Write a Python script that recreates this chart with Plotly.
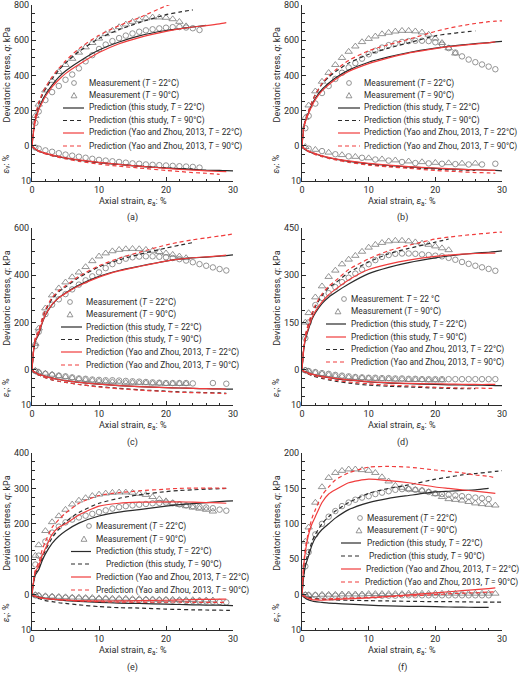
import plotly.graph_objects as go

W, H = 520, 673

# strain grids (%)
meas_strain = [0.5] + list(range(1, 30))
pred_strain = [0, 0.25, 0.5, 1, 1.5, 2, 3, 4, 5, 7, 10, 13, 16, 20, 22, 24, 26, 28, 29, 30]

# ---- (a) ----
a_q_c22 = [130, 195, 260, 305, 340, 375, 405, 440, 480, 515, 550, 575, 595, 612, 626, 638, 648, 656, 662, 667, 671, 674, 675, 672, 668, 658]
a_q_t90 = [170, 235, 315, 370, 420, 460, 495, 530, 560, 585, 610, 635, 655, 675, 690, 705, 715, 725, 730, 730, 728, 720, 705, 680]
a_q_ks = [0, 90, 150, 210, 255, 290, 345, 390, 425, 478, 544, 590, 625, 655, 665, 675, 684]
a_q_kd = [0, 100, 165, 235, 285, 322, 380, 430, 470, 535, 610, 660, 700, 745, 760, 772]
a_q_rs = [0, 85, 140, 205, 245, 280, 335, 375, 410, 462, 530, 580, 615, 650, 664, 675, 683, 693, 700]
a_q_rd = [0, 100, 170, 245, 295, 332, 392, 440, 482, 552, 628, 683, 728, 795, 822, 845, 866, 885, 895, 905]
a_ev_c22 = [0.5, 0.8, 1.3, 1.7, 2.1, 2.5, 2.8, 3.1, 3.4, 3.7, 4.0, 4.2, 4.4, 4.6, 4.8, 5.0, 5.1, 5.3, 5.4, 5.5, 5.6, 5.7, 5.8, 5.9, 6.0, 6.2]
a_ev_t90 = []
a_ev_ks = [0, 0.6, 1.0, 1.5, 1.9, 2.2, 2.7, 3.1, 3.5, 4.1, 4.8, 5.3, 5.8, 6.3, 6.5, 6.7, 6.9, 7.0, 7.05, 7.1]
a_ev_kd = [0, 0.6, 1.0, 1.5, 1.9, 2.2, 2.7, 3.1, 3.5, 4.1, 4.8, 5.3, 5.8, 6.3, 6.5, 6.6]
a_ev_rs = [0, 0.5, 0.9, 1.4, 1.8, 2.1, 2.6, 3.0, 3.4, 4.0, 4.7, 5.3, 5.8, 6.4, 6.7, 6.9, 7.1, 7.3, 7.35]
a_ev_rd = [0, 0.6, 1.0, 1.6, 2.0, 2.3, 2.9, 3.3, 3.7, 4.4, 5.2, 5.8, 6.3, 7.0, 7.3, 7.6, 7.8, 8.1]

# ---- (b) ----
b_q_c22 = [100, 170, 240, 300, 340, 380, 415, 445, 470, 495, 520, 540, 558, 572, 582, 590, 595, 597, 597, 595, 588, 575, 555, 530, 508, 490, 475, 462, 450, 435]
b_q_t90 = [160, 230, 310, 365, 415, 460, 500, 535, 565, 590, 608, 622, 635, 643, 650, 654, 654, 651, 645, 632, 610, 585, 555, 525]
b_q_ks = [0, 100, 140, 190, 235, 270, 320, 355, 385, 430, 475, 505, 530, 555, 565, 573, 580, 586, 590, 593]
b_q_kd = [0, 105, 145, 200, 250, 290, 350, 390, 420, 470, 520, 555, 585, 625, 636, 645, 653]
b_q_rs = [0, 95, 135, 185, 228, 262, 312, 347, 377, 422, 467, 500, 527, 552, 563, 571, 578, 585, 590]
b_q_rd = [0, 105, 145, 200, 250, 290, 355, 397, 430, 485, 540, 575, 605, 650, 668, 683, 695, 705, 708, 710]
b_ev_c22 = [None, 0.8, None, 1.5, None, 2.4, None, 3.0, None, 3.4, None, 3.9, None, 4.2, None, 4.6, None, 4.9, None, 5.0, None, 5.1, None, 5.2, None, 5.3, None, 5.3, None, 5.1]
b_ev_t90 = [0.3, None, 1.1, None, 1.9, None, 2.6, None, 3.1, None, 3.5, None, 3.8, None, 4.1, None, 4.4, None, 4.6, None, 4.8, None, 4.9, None, 5.0, None, 5.0]
b_ev_ks = [0, 0.7, 1.1, 1.6, 2.0, 2.3, 2.9, 3.4, 3.8, 4.4, 5.1, 5.6, 6.0, 6.4, 6.6, 6.7, 6.8, 6.95, 7.0, 7.1]
b_ev_kd = [0, 0.7, 1.1, 1.6, 2.0, 2.3, 2.9, 3.4, 3.8, 4.5, 5.3, 5.8, 6.2, 6.6, 6.8, 6.9, 7.0]
b_ev_rs = [0, 0.6, 1.0, 1.5, 1.9, 2.2, 2.8, 3.3, 3.7, 4.3, 5.0, 5.5, 5.9, 6.3, 6.5, 6.7, 6.8, 6.9, 7.0]
b_ev_rd = [0, 0.7, 1.1, 1.7, 2.1, 2.5, 3.1, 3.6, 4.0, 4.7, 5.5, 6.0, 6.4, 7.0, 7.2, 7.4, 7.6, 7.7, 7.8]

# ---- (c) ----
c_q_c22 = [100, 160, 235, 275, 298, 320, 340, 360, 378, 395, 412, 430, 447, 460, 470, 476, 479, 480, 480, 478, 476, 473, 468, 462, 455, 447, 440, 433, 426, 420]
c_q_t90 = [110, 175, 260, 315, 345, 370, 392, 412, 435, 460, 480, 493, 502, 508, 511, 512, 511, 508, 504, 499, 493, 487, 480, 473]
c_q_ks = [0, 80, 120, 150, 195, 230, 275, 305, 325, 358, 395, 420, 438, 460, 468, 473, 477, 481, 483, 486]
c_q_kd = [0, 90, 130, 160, 210, 250, 300, 330, 350, 390, 435, 465, 488, 515, 527, 538]
c_q_rs = [0, 85, 125, 155, 198, 232, 276, 304, 323, 355, 392, 418, 437, 460, 468, 474, 478, 482, 485]
c_q_rd = [0, 90, 135, 165, 215, 255, 305, 335, 355, 395, 440, 472, 497, 528, 540, 550, 558, 566, 570, 575]
c_ev_c22 = [0.4, 0.8, 1.2, 1.5, 1.7, 1.9, 2.2, 2.5, 2.6, 2.8, 2.9, 3.0, 3.0, 3.1, 3.2, 3.3, 3.4, 3.5, 3.6, 3.7, 3.8, 3.8, 3.8, 3.8, 3.9, None, None, 3.8, None, 4.0]
c_ev_t90 = [0.3, 0.7, 1.1, 1.4, 1.8, 2.1, 2.4, 2.7, 2.9, 3.1, 3.3, 3.4, 3.5, 3.6, 3.7, 3.7, 3.8, 3.8, 3.9, 3.9, 4.0, 4.0, 4.0, 4.0]
c_ev_ks = [0, 0.5, 0.8, 1.3, 1.6, 1.9, 2.4, 2.8, 3.1, 3.6, 4.1, 4.5, 4.8, 5.1, 5.2, 5.3, 5.4, 5.45, 5.5, 5.5]
c_ev_kd = [0, 0.6, 1.0, 1.5, 1.9, 2.3, 2.9, 3.3, 3.6, 4.2, 4.8, 5.3, 5.7, 6.1, 6.3, 6.4, 6.5, 6.6, 6.7]
c_ev_rs = [0, 0.5, 0.8, 1.3, 1.6, 1.9, 2.4, 2.8, 3.1, 3.6, 4.1, 4.5, 4.8, 5.1, 5.2, 5.3, 5.4, 5.45, 5.5]
c_ev_rd = [0, 0.6, 1.0, 1.5, 1.9, 2.3, 2.9, 3.3, 3.6, 4.2, 4.9, 5.4, 5.8, 6.2, 6.4, 6.5, 6.6, 6.7, 6.8]

# ---- (d) ----
d_q_c22 = [100, 150, 205, 228, 243, 262, 278, 292, 305, 318, 335, 348, 358, 364, 368, 369, 369, 368, 366, 364, 362, 360, 355, 349, 342, 336, 330, 325, 320, 314]
d_q_t90 = [150, 180, 230, 265, 295, 315, 335, 350, 362, 375, 388, 397, 403, 408, 410, 410, 408, 405, 401, 397, 392, 386, 380]
d_q_ks = [0, 60, 95, 130, 160, 180, 210, 230, 245, 272, 305, 325, 340, 355, 361, 366, 370, 373, 375, 377]
d_q_kd = [0, 70, 105, 145, 175, 200, 235, 260, 275, 308, 342, 368, 385, 405, 415]
d_q_rs = [0, 65, 100, 135, 165, 185, 215, 238, 255, 285, 318, 335, 348, 360, 364, 367, 369, 370, 370]
d_q_rd = [0, 70, 110, 150, 180, 205, 240, 265, 282, 318, 352, 378, 395, 415, 421, 426, 430, 434, 436, 437]
d_ev_c22 = [0.2, 0.4, 0.7, 1.0, 1.2, 1.5, 1.7, 1.9, 2.1, 2.2, 2.3, 2.3, 2.4, 2.4, 2.5, 2.5, 2.6, 2.6, 2.7, 2.7, 2.7, 2.7, 2.7, 2.7, 2.7, 2.7, 2.7, 2.7, 2.7, 2.7]
d_ev_t90 = [0.2, 0.5, 0.9, 1.2, 1.5, 1.8, 2.0, 2.2, 2.3, 2.4, 2.5, 2.6, 2.7, 2.7, 2.8, 2.8, 2.9, 2.9, 2.9, 3.0, 3.0, 3.0]
d_ev_ks = [0, 0.4, 0.6, 1.0, 1.3, 1.6, 2.0, 2.3, 2.6, 3.0, 3.5, 3.8, 4.0, 4.2, 4.3, 4.35, 4.4, 4.45, 4.5, 4.5]
d_ev_kd = [0, 0.5, 0.8, 1.3, 1.7, 2.0, 2.5, 2.9, 3.3, 3.8, 4.4, 4.7, 4.9, 5.2, 5.3, 5.4, 5.4]
d_ev_rs = [0, 0.4, 0.6, 1.0, 1.3, 1.5, 1.9, 2.2, 2.5, 2.9, 3.4, 3.7, 3.9, 4.0, 4.1, 4.15, 4.2, 4.2, 4.2]
d_ev_rd = [0, 0.5, 0.8, 1.2, 1.6, 1.8, 2.3, 2.7, 3.0, 3.5, 4.0, 4.4, 4.6, 5.0, 5.1, 5.2, 5.2, 5.3, 5.3]

# ---- (e) ----
e_q_c22 = [85, 110, 150, 175, 192, 204, 212, 218, 223, 228, 233, 238, 243, 247, 250, 252, 254, 256, 258, 259, 260, 258, 255, 252, 250, 248, 246, 244, 240, 237]
e_q_t90 = [110, 140, 180, 205, 222, 240, 255, 266, 273, 279, 283, 286, 288, 289, 289, 288, 285, 282, 276, 270, 264, 259, 254, 250, 246, 243, 240, 235]
e_q_ks = [0, 35, 55, 70, 95, 115, 145, 165, 180, 202, 222, 233, 240, 250, 254, 257, 260, 263, 264, 265]
e_q_kd = [0, 38, 60, 75, 102, 125, 160, 185, 205, 232, 258, 272, 282, 291, 294, 296, 298, 299, 300]
e_q_rs = [0, 40, 65, 80, 110, 130, 170, 190, 200, 225, 250, 258, 261, 262, 262, 261, 260, 259, 258]
e_q_rd = [0, 45, 70, 90, 125, 150, 190, 212, 230, 258, 280, 288, 293, 298, 300, 301, 301, 301, 300]
e_ev_c22 = [0.2, 0.4, 0.6, 0.7, 0.8, 0.9, 1.0, 1.1, 1.1, 1.2, 1.3, 1.3, 1.4, 1.4, 1.4, 1.5, 1.5, 1.5, 1.6, 1.6, 1.6, 1.7, 1.7, 1.8, 1.8, 1.9, 1.9, 2.0, 2.1, 2.2]
e_ev_t90 = [0.1, 0.2, 0.4, 0.5, 0.6, 0.7, 0.8, 0.8, 0.9, 0.9, 1.0, 1.0, 1.1, 1.1, 1.1, 1.2, 1.2, 1.3, 1.3, 1.4, 1.4, 1.4, 1.5, 1.5, 1.5, 1.6, 1.6, 1.6]
e_ev_ks = [0, 0.3, 0.5, 0.7, 0.9, 1.1, 1.3, 1.5, 1.7, 1.9, 2.2, 2.4, 2.5, 2.7, 2.8, 2.9, 2.95, 3.0, 3.05, 3.1]
e_ev_kd = [0, 0.4, 0.7, 1.1, 1.4, 1.7, 2.0, 2.3, 2.5, 2.9, 3.4, 3.7, 3.8, 4.1, 4.2, 4.3, 4.35, 4.4, 4.45, 4.5]
e_ev_rs = [0, 0.3, 0.5, 0.8, 1.0, 1.1, 1.3, 1.4, 1.5, 1.7, 1.8, 1.8, 1.7, 1.6, 1.5, 1.4, 1.35, 1.3, 1.3]
e_ev_rd = [0, 0.3, 0.5, 0.8, 1.0, 1.1, 1.3, 1.5, 1.6, 1.8, 2.0, 2.1, 2.1, 2.1, 2.1, 2.2, 2.2, 2.2, 2.2]

# ---- (f) ----
f_q_c22 = [40, 60, 85, 100, 110, 118, 125, 130, 134, 137, 139, 142, 144, 146, 148, 149, 149, 148, 147, 145, 143, 142, 141, 140, 139, 138, 137, 136, 135]
f_q_t90 = [75, 95, 130, 152, 165, 172, 175, 177, 177, 176, 175, 172, 166, 160, 154, 151, 149, 148, 147, 145, 142, 138, 135, 134, 133, 131, 129, 128, 127, 126]
f_q_ks = [0, 25, 40, 55, 70, 80, 92, 100, 108, 120, 130, 136, 140, 145, 146, 147, 148, 150]
f_q_kd = [0, 28, 45, 60, 75, 85, 100, 110, 118, 130, 143, 150, 155, 163, 166, 169, 171, 173, 174, 175]
f_q_rs = [0, 40, 60, 85, 100, 110, 130, 142, 148, 158, 163, 161, 158, 152, 150, 148, 146, 144, 143]
f_q_rd = [0, 42, 65, 90, 108, 120, 140, 152, 162, 172, 180, 181, 180, 176, 174, 172, 169, 167, 165]
f_ev_c22 = [0.1, 0.2, 0.2, 0.3, 0.3, 0.3, 0.3, 0.3, 0.3, 0.3, 0.3, 0.3, 0.3, 0.3, 0.3, 0.2, 0.2, 0.2, 0.2, 0.2, 0.2, 0.2, 0.2, 0.2, 0.2, 0.2, 0.2, 0.2, 0.2]
f_ev_t90 = [0.1, 0.1, 0.1, 0.0, 0.0, 0.0, -0.1, -0.1, -0.1, -0.1, -0.2, -0.2, -0.2, -0.2, -0.2, -0.2, -0.3, -0.3, -0.3, -0.3, -0.3, -0.3, -0.3, -0.3, -0.3, -0.3, -0.3, -0.3, -0.3, -0.3]
f_ev_ks = [0, 0.6, 1.0, 1.5, 1.8, 2.0, 2.2, 2.4, 2.5, 2.7, 3.0, 3.2, 3.3, 3.4, 3.5, 3.55, 3.6, 3.6]
f_ev_kd = [0, 0.3, 0.5, 0.8, 1.0, 1.1, 1.3, 1.4, 1.5, 1.6, 1.7, 1.8, 1.9, 2.0, 2.0, 2.05, 2.1, 2.1, 2.1, 2.1]
f_ev_rs = [0, 0.4, 0.7, 1.1, 1.4, 1.5, 1.6, 1.5, 1.4, 1.2, 0.9, 0.5, 0.1, -0.5, -0.8, -1.1, -1.4, -1.7, -1.9]
f_ev_rd = [0, 0.3, 0.6, 1.0, 1.2, 1.3, 1.3, 1.2, 1.1, 1.0, 0.8, 0.6, 0.4, 0.0, -0.2, -0.4, -0.5, -0.7, -0.8]

q_max = [800, 800, 600, 450, 400, 200]
q_step = [200, 200, 200, 150, 100, 50]
panel_labels = ["(a)", "(b)", "(c)", "(d)", "(e)", "(f)"]

legend_std = ["Measurement (<i>T</i> = 22°C)", "Measurement (<i>T</i> = 90°C)",
              "Prediction (this study, <i>T</i> = 22°C)", "Prediction (this study, <i>T</i> = 90°C)",
              "Prediction (Yao and Zhou, 2013, <i>T</i> = 22°C)", "Prediction (Yao and Zhou, 2013, <i>T</i> = 90°C)"]
legend_d = ["Measurement: <i>T</i> = 22 °C", "Measurement (<i>T</i> = 90°C)",
            "Prediction (this study, <i>T</i> = 22°C)", "Prediction (this study, <i>T</i> = 90°C)",
            "Prediction (Yao and Zhou, 2013, <i>T</i> = 22°C)", "Prediction (Yao and Zhou, 2013, <i>T</i> = 90°C)"]

GREY = "#7a7a7a"
RED = "#f03c3c"
INK = "#2b2b2b"
FONT = "Roboto"
DASH = "4px,3px"

STYLE = {
    "ks": dict(color=INK, dash="solid"),
    "kd": dict(color=INK, dash=DASH),
    "rs": dict(color=RED, dash="solid"),
    "rd": dict(color=RED, dash=DASH),
}

# legend geometry per panel: line x0, line x1, circle x, triangle x, text x per row, row y
panels = [
    dict(q=[a_q_c22, a_q_t90, a_q_ks, a_q_kd, a_q_rs, a_q_rd], ev=[a_ev_c22, a_ev_t90, a_ev_ks, a_ev_kd, a_ev_rs, a_ev_rd],
         legend=legend_std, order=["c", "t", "ks", "kd", "rs", "rd"],
         leg=(63, 84, 74, 74, [87] * 6, [83, 95.5, 108, 120.5, 133, 146])),
    dict(q=[b_q_c22, b_q_t90, b_q_ks, b_q_kd, b_q_rs, b_q_rd], ev=[b_ev_c22, b_ev_t90, b_ev_ks, b_ev_kd, b_ev_rs, b_ev_rd],
         legend=legend_std, order=["c", "t", "ks", "kd", "rs", "rd"],
         leg=(338, 360, 349, 349, [362] * 6, [83, 95.5, 108, 120.5, 133, 146])),
    dict(q=[c_q_c22, c_q_t90, c_q_ks, c_q_kd, c_q_rs, c_q_rd], ev=[c_ev_c22, c_ev_t90, c_ev_ks, c_ev_kd, c_ev_rs, c_ev_rd],
         legend=legend_std, order=["c", "t", "ks", "kd", "rs", "rd"],
         leg=(61, 82, 70, 70, [84] * 6, [302, 314.5, 327, 339.5, 352, 365])),
    dict(q=[d_q_c22, d_q_t90, d_q_ks, d_q_kd, d_q_rs, d_q_rd], ev=[d_ev_c22, d_ev_t90, d_ev_ks, d_ev_kd, d_ev_rs, d_ev_rd],
         legend=legend_d, order=["c", "t", "ks", "rs", "kd", "rd"],
         leg=(326, 346, 344, 338, [349] * 6, [299, 311.5, 324, 337, 349.5, 362])),
    dict(q=[e_q_c22, e_q_t90, e_q_ks, e_q_kd, e_q_rs, e_q_rd], ev=[e_ev_c22, e_ev_t90, e_ev_ks, e_ev_kd, e_ev_rs, e_ev_rd],
         legend=legend_std, order=["c", "t", "ks", "kd", "rs", "rd"],
         leg=(71, 91, 89, 84, [94, 94, 94, 104, 94, 94], [526, 539, 551.5, 564, 577, 590])),
    dict(q=[f_q_c22, f_q_t90, f_q_ks, f_q_kd, f_q_rs, f_q_rd], ev=[f_ev_c22, f_ev_t90, f_ev_ks, f_ev_kd, f_ev_rs, f_ev_rd],
         legend=legend_std, order=["c", "t", "ks", "kd", "rs", "rd"],
         leg=(341, 361, 360, 359, [365, 365, 365, 367, 364, 363], [518, 530.5, 543, 556, 569, 582])),
]

cols = [(32, 233), (302, 502)]
rows = [(5, 181), (228, 405), (453, 630)]


def px(x):
    return x / W


def py(y):
    return 1 - y / H


def pad(vals, grid):
    return list(vals) + [None] * (len(grid) - len(vals))


fig = go.Figure()
shapes = []
annotations = []
axis_font = dict(family=FONT, size=9, color=INK)
leg_font = dict(family=FONT, size=8.3, color=INK)

for i, p in enumerate(panels):
    x0, x1 = cols[i % 2]
    top, bot = rows[i // 2]
    qmax, step = q_max[i], q_step[i]
    xa = "x" if i == 0 else "x%d" % (i + 1)
    yq = "y%d" % (2 * i + 1) if i else "y"
    ye = "y%d" % (2 * i + 2)

    # measurements
    for vals, sym, size in [(p["q"][0], "circle-open", 5.5), (p["q"][1], "triangle-up-open", 6.5)]:
        fig.add_trace(go.Scatter(x=meas_strain, y=pad(vals, meas_strain), xaxis=xa, yaxis=yq, mode="markers",
                                 marker=dict(symbol=sym, size=size, color=GREY, line=dict(width=0.8, color=GREY)),
                                 showlegend=False))
    for vals, sym, size in [(p["ev"][0], "circle-open", 5.5), (p["ev"][1], "triangle-up-open", 6.5)]:
        if vals:
            fig.add_trace(go.Scatter(x=meas_strain, y=pad(vals, meas_strain), xaxis=xa, yaxis=ye, mode="markers",
                                     marker=dict(symbol=sym, size=size, color=GREY, line=dict(width=0.8, color=GREY)),
                                     showlegend=False))
    # predictions
    for k, key in enumerate(["ks", "kd", "rs", "rd"]):
        st = STYLE[key]
        fig.add_trace(go.Scatter(x=pred_strain, y=pad(p["q"][2 + k], pred_strain), xaxis=xa, yaxis=yq, mode="lines",
                                 line=dict(color=st["color"], dash=st["dash"], width=1.2, shape="spline", smoothing=0.6),
                                 showlegend=False))
        fig.add_trace(go.Scatter(x=pred_strain, y=pad(p["ev"][2 + k], pred_strain), xaxis=xa, yaxis=ye, mode="lines",
                                 line=dict(color=st["color"], dash=st["dash"], width=1.2, shape="spline", smoothing=0.6),
                                 showlegend=False))

    dom_x = [px(x0), px(x1)]
    dom_y = [py(bot), py(top)]
    fig.layout[("xaxis" if i == 0 else "xaxis%d" % (i + 1))] = dict(
        domain=dom_x, anchor=yq, range=[0, 30], tickvals=[0, 10, 20, 30], ticks="inside", ticklen=4,
        tickcolor=INK, showline=True, linecolor=INK, linewidth=1, showgrid=False, zeroline=False,
        automargin=False, ticklabeloverflow="allow", tickfont=axis_font,
        minor=dict(dtick=2, tick0=0, ticks="inside", ticklen=2.5, tickcolor=INK))
    qticks = [step * j for j in range(int(qmax / step) + 1)]
    qminor = [step / 4 * j for j in range(int(qmax / (step / 4)) + 1)]
    fig.layout[("yaxis" if i == 0 else "yaxis%d" % (2 * i + 1))] = dict(
        domain=dom_y, anchor=xa, range=[-qmax / 4, qmax], tickvals=qticks, ticks="inside", ticklen=4,
        tickcolor=INK, showline=True, linecolor=INK, linewidth=1, showgrid=False, zeroline=False,
        automargin=False, ticklabeloverflow="allow", tickfont=axis_font,
        minor=dict(tickvals=qminor, ticks="inside", ticklen=2.5, tickcolor=INK))
    fig.layout["yaxis%d" % (2 * i + 2)] = dict(
        overlaying=yq, anchor=xa, side="left", range=[10, -40], tickvals=[10], ticktext=["10"], ticks="",
        showline=False, showgrid=False, zeroline=False, automargin=False, ticklabeloverflow="allow",
        tickfont=axis_font, minor=dict(tickvals=[2.5, 5, 7.5], ticks="inside", ticklen=2.5, tickcolor=INK))

    zero = bot - (bot - top) / 5
    # axis titles
    annotations.append(dict(text="Deviatoric stress, <i>q</i>: kPa", textangle=-90, x=px(x0 - 25), y=py((top + zero) / 2),
                            xref="paper", yref="paper", xanchor="center", yanchor="middle", showarrow=False,
                            font=dict(family=FONT, size=9, color=INK)))
    annotations.append(dict(text="<i>ε</i><sub>v</sub>: %", textangle=-90, x=px(x0 - 25), y=py((zero + bot) / 2 + 1),
                            xref="paper", yref="paper", xanchor="center", yanchor="middle", showarrow=False,
                            font=dict(family=FONT, size=9, color=INK)))
    annotations.append(dict(text="Axial strain, <i>ε</i><sub>a</sub>: %", x=px((x0 + x1) / 2), y=py(bot + 21),
                            xref="paper", yref="paper", xanchor="center", yanchor="middle", showarrow=False,
                            font=dict(family=FONT, size=9, color=INK)))
    annotations.append(dict(text=panel_labels[i], x=px((x0 + x1) / 2), y=py(bot + 37),
                            xref="paper", yref="paper", xanchor="center", yanchor="middle", showarrow=False,
                            font=dict(family=FONT, size=9, color=INK)))

    # legend drawn by hand (compact rows)
    lx0, lx1, cx, tx_, tx, ys = p["leg"]
    for r, key in enumerate(p["order"]):
        yy = py(ys[r])
        if key == "c":
            shapes.append(dict(type="circle", xref="paper", yref="paper", xsizemode="pixel", ysizemode="pixel",
                               xanchor=px(cx), yanchor=yy, x0=-2.4, x1=2.4, y0=-2.4, y1=2.4,
                               line=dict(color=GREY, width=0.8)))
        elif key == "t":
            shapes.append(dict(type="path", xref="paper", yref="paper", xsizemode="pixel", ysizemode="pixel",
                               xanchor=px(tx_), yanchor=yy, path="M -2.9,-2.3 L 2.9,-2.3 L 0,2.9 Z",
                               line=dict(color=GREY, width=0.8)))
        else:
            st = STYLE[key]
            shapes.append(dict(type="line", xref="paper", yref="paper", x0=px(lx0), x1=px(lx1), y0=yy, y1=yy,
                               line=dict(color=st["color"], width=1.2, dash=st["dash"])))
        annotations.append(dict(text=p["legend"][r], x=px(tx[r]), y=yy, xref="paper", yref="paper",
                                xanchor="left", yanchor="middle", showarrow=False, font=leg_font))

fig.update_layout(width=W, height=H, margin=dict(l=0, r=0, t=0, b=0, autoexpand=False), paper_bgcolor="white",
                  plot_bgcolor="white", showlegend=False, shapes=shapes, annotations=annotations,
                  font=dict(family=FONT, size=9, color=INK))

# the page body has a default margin; drop it so the figure sits at the window corner
fig.write_html("out.html", config={"displayModeBar": False},
               post_script="document.body.style.margin='0';")
